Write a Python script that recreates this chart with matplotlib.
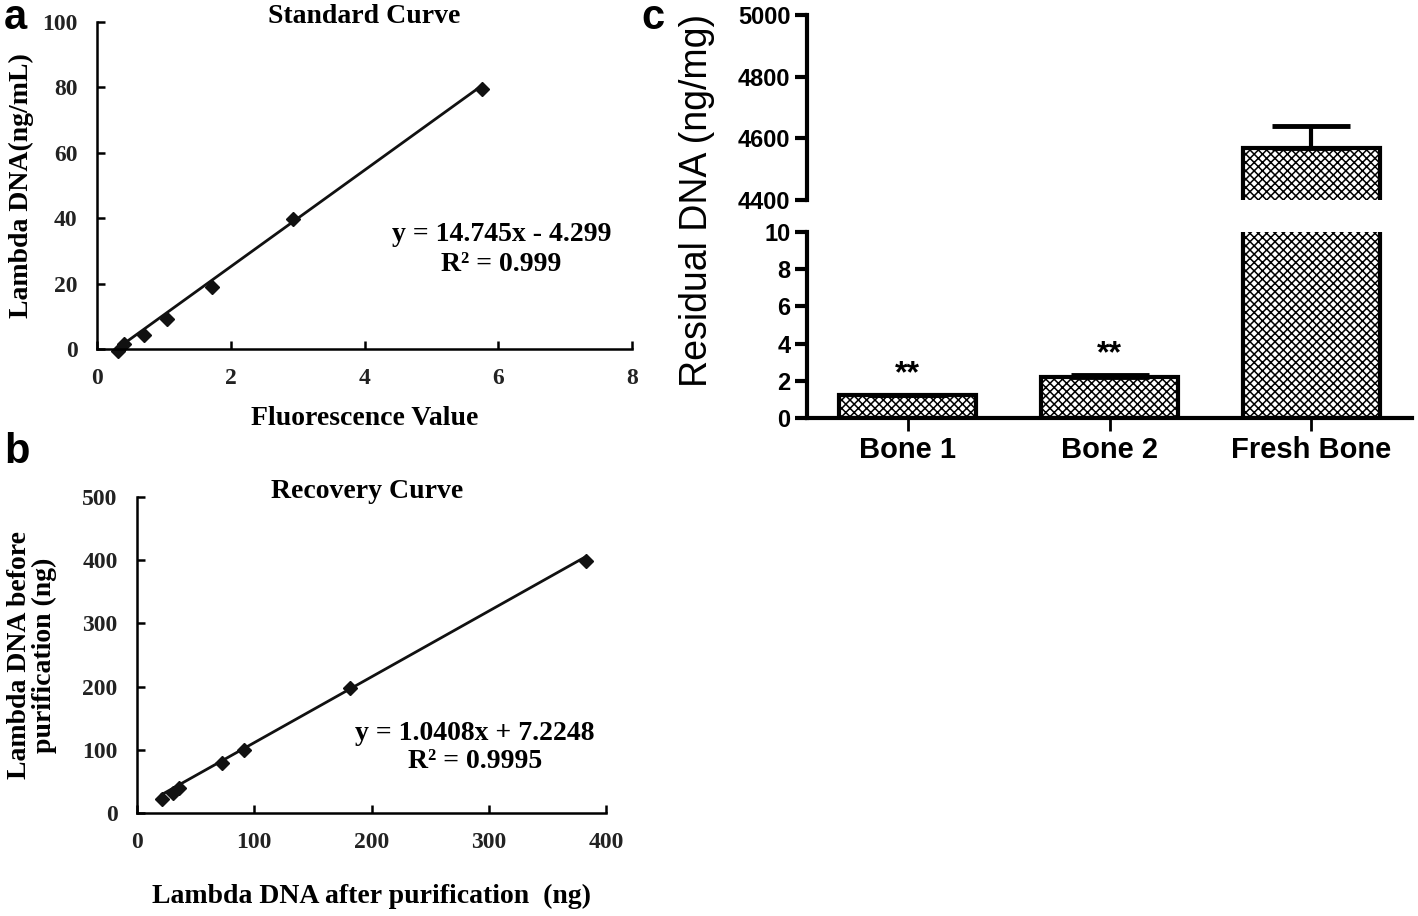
import matplotlib.pyplot as plt
import numpy as np

plt.rcParams['hatch.linewidth'] = 1.1

# panel a - standard curve
fluor = [0.31, 0.40, 0.71, 1.05, 1.72, 2.93, 5.75]
lambda_std = [-0.6, 1.6, 4.3, 9.2, 19.0, 39.7, 79.5]
slope_a, icpt_a = 14.745, -4.299

# panel b - recovery curve
after_pur = [21, 31, 36, 72.6, 91, 182, 383]
before_pur = [21.8, 31, 39, 79, 99, 198.5, 399]
slope_b, icpt_b = 1.0408, 7.2248

# panel c - residual DNA
groups = ['Bone 1', 'Bone 2', 'Fresh Bone']
residual = [1.22, 2.2, 4569]
residual_err = [0.04, 0.1, 71]
stars = ['**', '**', '']

serif = 'Liberation Serif'
sans = 'Liberation Sans'

fig = plt.figure(figsize=(14.18, 9.16), dpi=100)


def style_curve(ax):
    for s in ['top', 'right']:
        ax.spines[s].set_visible(False)
    for s in ['left', 'bottom']:
        ax.spines[s].set_linewidth(1.8)
    ax.tick_params(direction='in', length=6, width=1.8, pad=14,
                   labelsize=17)
    for lab in ax.get_xticklabels() + ax.get_yticklabels():
        lab.set_fontfamily(serif)
        lab.set_fontweight('bold')
        lab.set_color('#222222')


# ---- a ----
ax_a = fig.add_axes([97 / 1418, 1 - 349 / 916, 535 / 1418, 327 / 916])
ax_a.plot(fluor, lambda_std, linestyle='none', marker='D', markersize=7, color='#111111')
xa = np.array([min(fluor), max(fluor)])
ax_a.plot(xa, slope_a * xa + icpt_a, color='#111111', linewidth=2)
ax_a.set_xlim(0, 8)
ax_a.set_ylim(0, 100)
ax_a.set_xticks([0, 2, 4, 6, 8])
ax_a.set_yticks([0, 20, 40, 60, 80, 100])
style_curve(ax_a)
ax_a.text(0.5, 1 + 5 / 327, 'Standard Curve', transform=ax_a.transAxes, ha='center',
          va='center', fontfamily=serif, fontweight='bold', fontsize=20)
ax_a.set_xlabel('Fluorescence Value', fontfamily=serif, fontweight='bold', fontsize=20, labelpad=12)
ax_a.set_ylabel('Lambda DNA(ng/mL)', fontfamily=serif, fontweight='bold', fontsize=20, labelpad=6)
ax_a.text(6.05, 0.304, 'y = 14.745x - 4.299\nR² = 0.999', transform=ax_a.get_xaxis_transform(),
          ha='center', va='center', fontfamily=serif, fontweight='bold', fontsize=20,
          linespacing=1.25)
for ln in ax_a.lines:
    ln.set_clip_on(False)

# ---- b ----
ax_b = fig.add_axes([137 / 1418, 1 - 813 / 916, 469 / 1418, 316 / 916])
ax_b.plot(after_pur, before_pur, linestyle='none', marker='D', markersize=7, color='#111111')
xb = np.array([min(after_pur), max(after_pur)])
ax_b.plot(xb, slope_b * xb + icpt_b, color='#111111', linewidth=2)
ax_b.set_xlim(0, 400)
ax_b.set_ylim(0, 500)
ax_b.set_xticks([0, 100, 200, 300, 400])
ax_b.set_yticks([0, 100, 200, 300, 400, 500])
style_curve(ax_b)
ax_b.text(0.49, 1 + 5 / 316, 'Recovery Curve', transform=ax_b.transAxes, ha='center',
          va='center', fontfamily=serif, fontweight='bold', fontsize=20)
ax_b.set_xlabel('Lambda DNA after purification  (ng)', fontfamily=serif, fontweight='bold',
                fontsize=20, labelpad=22)
ax_b.set_ylabel('Lambda DNA before\npurification (ng)', fontfamily=serif, fontweight='bold',
                fontsize=20, labelpad=18, linespacing=1.0)
ax_b.text(288, 0.207, 'y = 1.0408x + 7.2248\nR² = 0.9995', transform=ax_b.get_xaxis_transform(),
          ha='center', va='center', fontfamily=serif, fontweight='bold', fontsize=20,
          linespacing=1.2)
for ln in ax_b.lines:
    ln.set_clip_on(False)

# ---- c (broken axis) ----
left_c, right_c = 807 / 1418, 1412 / 1418
ax_lo = fig.add_axes([left_c, 1 - 418 / 916, right_c - left_c, 186 / 916])
ax_hi = fig.add_axes([left_c, 1 - 200 / 916, right_c - left_c, 185 / 916])

xpos = np.arange(len(groups))
for ax in (ax_lo, ax_hi):
    ax.bar(xpos, residual, width=0.68, color='white', edgecolor='black',
           linewidth=3, hatch='xxxx')
    for i in range(len(groups)):
        ax.errorbar(xpos[i], residual[i], yerr=[[0], [residual_err[i]]], color='black',
                    elinewidth=3, capsize=28, capthick=3.5)
    ax.set_xlim(-0.5, 2.5)
    for s in ['top', 'right']:
        ax.spines[s].set_visible(False)
    ax.spines['left'].set_linewidth(3)
    ax.tick_params(axis='y', direction='out', length=9, width=3, pad=3, labelsize=17)
    for lab in ax.get_yticklabels():
        lab.set_fontfamily(sans)
        lab.set_fontweight('bold')

ax_lo.set_ylim(0, 10)
ax_lo.set_yticks([0, 2, 4, 6, 8, 10])
ax_lo.spines['bottom'].set_linewidth(3)
ax_lo.set_xticks(xpos)
ax_lo.set_xticklabels(groups, fontfamily=sans, fontweight='bold', fontsize=21)
ax_lo.tick_params(axis='x', direction='out', length=9, width=2, pad=4)
for i in range(len(groups)):
    if stars[i]:
        ax_lo.text(xpos[i], residual[i] + residual_err[i] + 0.3, stars[i], ha='center',
                   va='bottom', fontfamily=sans, fontweight='bold', fontsize=23)

ax_hi.set_ylim(4400, 5000)
ax_hi.set_yticks([4400, 4600, 4800, 5000])
ax_hi.spines['bottom'].set_visible(False)
ax_hi.set_xticks([])

fig.text(697 / 1418, 1 - 200 / 916, 'Residual DNA (ng/mg)', rotation=90, ha='center',
         va='center', fontfamily=sans, fontsize=27)

# panel letters
for letter, x, y in [('a', 4, 18), ('b', 4, 452), ('c', 641, 18)]:
    fig.text(x / 1418, 1 - y / 916, letter, fontfamily=sans, fontweight='bold',
             fontsize=30, va='center', ha='left')

fig.savefig('out.png', dpi=100)
